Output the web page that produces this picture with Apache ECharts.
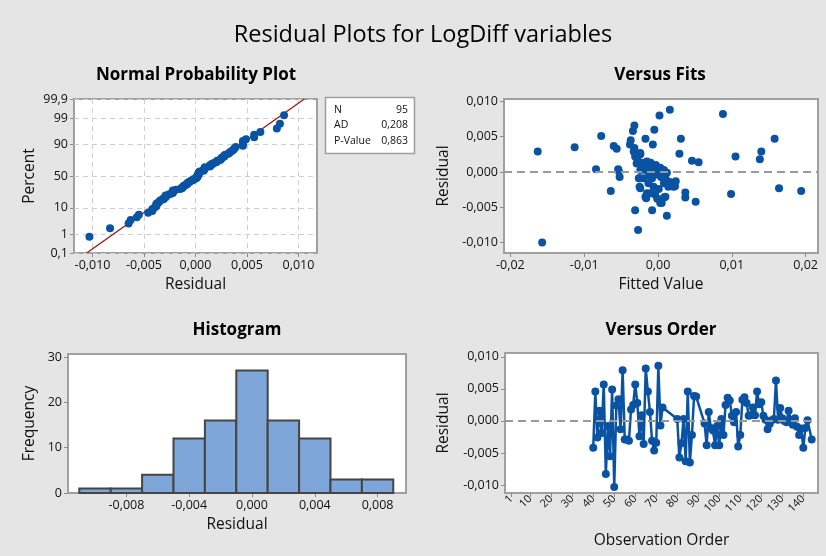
<!DOCTYPE html>
<html>
<head>
<meta charset="utf-8">
<script src="https://cdn.jsdelivr.net/npm/echarts@6/dist/echarts.min.js"></script>
<style>
  html, body { margin: 0; padding: 0; background: #e5e5e5; }
  #chart { width: 826px; height: 556px; }
</style>
</head>
<body>
<div id="chart"></div>
<script>
  // residuals by observation order (rows without a residual are skipped)
  var orderIndex = [
    40, 41, 42, 43, 44, 45, 46, 47, 48, 49, 50, 51, 52, 53, 54, 55, 56, 57, 58, 59,
    60, 61, 62, 63, 64, 65, 66, 67, 68, 69, 70, 71, 72, 73,
    80, 81, 82, 83, 84, 85, 86, 87, 88, 89,
    93, 94, 95, 96, 97, 98, 99, 100, 101, 102, 103, 104, 105, 106, 107, 108, 109, 110,
    111, 112, 113, 114, 115, 116, 117, 118, 119, 120, 121, 122, 123, 124, 125, 126,
    127, 128, 129, 130, 131, 132, 133, 134, 135, 136, 137, 138, 139, 140, 141, 142, 144
  ]
  var orderResiduals = [
    -0.0042, 0.0046, -0.0026, 0.0016, -0.0019, 0.0057, -0.0083, -0.0008, -0.0055, 0.0049,
    -0.0103, 0.0024, 0.0034, -0.0013, 0.0079, -0.0029, -0.0029, -0.0031, 0.0018, 0.0025,
    0.0057, 0.0028, -0.0024, 0.0009, -0.0036, 0.0082, 0.0046, 0.0014, -0.0031, -0.0046,
    -0.0034, 0.0086, -0.0007, 0.0021,
    0.0003, -0.0057, -0.0035, 0.0003, -0.0063, 0.0046, -0.0065, -0.0022, 0.0039, 0.0038,
    -0.0004, -0.0038, 0.0014, -0.0011, -0.0015, -0.0038, -0.0008, -0.0038, 0.0003, -0.0022,
    0.0025, 0.0036, 0.0032, 0.0008, -0.0002, 0.0014, -0.0040, -0.0022,
    0.0033, 0.0037, 0.0028, 0.0008, 0.0009, 0.0021, 0.0009, 0.0046, 0.0026, 0.0029,
    0.0008, 0.0002, -0.0013, -0.0005, 0.0001, 0.0003,
    0.0063, 0.0002, 0.0020, 0.0004, 0.0000, -0.0002, 0.0016, 0.0002, -0.0006, 0.0004,
    -0.0009, -0.0022, -0.0012, -0.0042, -0.0011, 0.0001, -0.0029
  ]

  // versus fits
  var fitValues = [
    -0.0163, -0.0157, -0.0113, -0.0084, -0.0077, -0.0064, -0.0060, -0.0056, -0.0054, -0.0053,
    -0.0052, -0.0038, -0.0037, -0.0034, -0.0032, -0.0032, -0.0031, -0.0029, -0.0027, -0.0025,
    -0.0024, -0.0024, -0.0017, -0.0017, -0.0015, -0.0008, -0.0007, -0.0005, -0.0004, 0.0002,
    0.0003, 0.0008, 0.0010, 0.0012, 0.0016, 0.0024, 0.0023, 0.0029, 0.0031, 0.0037,
    0.0037, 0.0046, 0.0051, 0.0055, 0.0088, 0.0099, 0.0105, 0.0138, 0.0140, 0.0158,
    0.0164, 0.0194,
    -0.0033, -0.0031, -0.0028, -0.0024, -0.0022, -0.0020, -0.0017, -0.0024, -0.0026, -0.0015,
    -0.0013, -0.0010, -0.0008, -0.0008, -0.0006, -0.0004, -0.0001, 0.0001, 0.0003, 0.0004,
    0.0008, 0.0010, 0.0008, 0.0012, 0.0014, 0.0016, 0.0021, -0.0020, -0.0013, -0.0006,
    -0.0010, -0.0001, 0.0005, -0.0025, -0.0019, -0.0011, -0.0003, 0.0006, 0.0011, -0.0012,
    -0.0029, 0.0001, -0.0016
  ]
  var fitResiduals = [
    0.0029, -0.0100, 0.0035, 0.0004, 0.0051, -0.0027, 0.0037, 0.0033, 0.0004, 0.0001,
    -0.0007, 0.0039, 0.0045, 0.0058, 0.0066, 0.0034, -0.0054, 0.0022, -0.0082, -0.0009,
    -0.0023, 0.0027, 0.0047, -0.0035, -0.0030, -0.0054, 0.0039, 0.0060, -0.0032, 0.0080,
    -0.0044, -0.0036, -0.0035, -0.0062, 0.0088, -0.0013, -0.0020, 0.0026, 0.0047, -0.0029,
    -0.0036, 0.0016, -0.0042, 0.0014, 0.0082, -0.0031, 0.0022, 0.0018, 0.0029, 0.0047,
    -0.0023, -0.0027,
    0.0029, 0.0022, 0.0017, 0.0025, 0.0013, 0.0008, 0.0003, 0.0003, -0.0009, 0.0015,
    0.0006, 0.0013, 0.0001, -0.0009, 0.0003, -0.0004, 0.0006, -0.0001, 0.0006, -0.0007,
    0.0003, -0.0009, -0.0016, -0.0001, -0.0021, -0.0014, -0.0021, -0.0009, -0.0016, -0.0021,
    -0.0030, -0.0038, -0.0044, -0.0021, 0.0010, 0.0002, 0.0010, 0.0001, -0.0012, -0.0005,
    0.0012, -0.0024, -0.0037
  ]

  // histogram
  var binCenters = [-0.010, -0.008, -0.006, -0.004, -0.002, 0.000, 0.002, 0.004, 0.006, 0.008]
  var binCounts = [1, 1, 4, 12, 16, 27, 16, 12, 3, 3]
  var binWidth = 0.002

  // tick labels
  var percentTicks = [0.1, 1, 10, 50, 90, 99, 99.9]
  var probXTicks = [-0.010, -0.005, 0.000, 0.005, 0.010]
  var fitXTicks = [-0.02, -0.01, 0.00, 0.01, 0.02]
  var residTicks = [-0.010, -0.005, 0.000, 0.005, 0.010]
  var histXTicks = [-0.008, -0.004, 0.000, 0.004, 0.008]
  var freqTicks = [0, 10, 20, 30]
  var orderTicks = [1, 10, 20, 30, 40, 50, 60, 70, 80, 90, 100, 110, 120, 130, 140]

  // fitted normal line and stats box
  var lineMean = 0.0
  var lineSd = 0.00342
  var statNames = ['N', 'AD', 'P-Value']
  var statValues = ['95', '0,208', '0,863']

  var FONT = '"Open Sans", "Noto Sans", sans-serif'
  var BLUE = '#0a53a3'
  var INK = '#111'

  function fmt (v, d) {
    var s = Math.abs(v).toFixed(d).replace('.', ',')
    return (v < 0 && Math.abs(v) > 1e-12 ? '-' : '') + s
  }

  // inverse standard normal (Acklam)
  function normInv (p) {
    var a = [-3.969683028665376e+01, 2.209460984245205e+02, -2.759285104469687e+02, 1.383577518672690e+02, -3.066479806614716e+01, 2.506628277459239e+00]
    var b = [-5.447609879822406e+01, 1.615858368580409e+02, -1.556989798598866e+02, 6.680131188771972e+01, -1.328068155288572e+01]
    var c = [-7.784894002430293e-03, -3.223964580411365e-01, -2.400758277161838e+00, -2.549732539343734e+00, 4.374664141464968e+00, 2.938163982698783e+00]
    var d = [7.784695709041462e-03, 3.224671290700398e-01, 2.445134137142996e+00, 3.754408661907416e+00]
    var q, r
    if (p < 0.02425) {
      q = Math.sqrt(-2 * Math.log(p))
      return (((((c[0] * q + c[1]) * q + c[2]) * q + c[3]) * q + c[4]) * q + c[5]) / ((((d[0] * q + d[1]) * q + d[2]) * q + d[3]) * q + 1)
    }
    if (p > 1 - 0.02425) return -normInv(1 - p)
    q = p - 0.5
    r = q * q
    return (((((a[0] * r + a[1]) * r + a[2]) * r + a[3]) * r + a[4]) * r + a[5]) * q / (((((b[0] * r + b[1]) * r + b[2]) * r + b[3]) * r + b[4]) * r + 1)
  }

  // probability plot points: sorted residuals vs median-rank scores
  var sorted = orderResiduals.slice().sort(function (x, y) { return x - y })
  var n = sorted.length
  var probPoints = sorted.map(function (v, i) {
    return [v, normInv((i + 1 - 0.3) / (n + 0.4))]
  })
  var percentZ = percentTicks.map(function (p) { return normInv(p / 100) })
  var zMin = percentZ[0] - 1e-6
  var zMax = percentZ[percentZ.length - 1] + 1e-6
  var fitLine = [[lineMean + lineSd * zMin, zMin], [lineMean + lineSd * zMax, zMax]]

  var fitsData = fitValues.map(function (f, i) { return [f, fitResiduals[i]] })
  var orderData = orderIndex.map(function (o, i) { return [o, orderResiduals[i]] })
  var histData = binCenters.map(function (c, i) { return [c, binCounts[i]] })

  function axis (o) {
    return {
      type: 'value',
      gridIndex: o.grid,
      min: o.min,
      max: o.max,
      name: o.name,
      nameLocation: 'middle',
      nameGap: o.nameGap,
      nameMoveOverlap: false,
      nameTextStyle: { fontFamily: FONT, fontSize: 15.5, color: INK },
      axisLine: { show: false, onZero: false },
      axisTick: { show: true, length: 4, customValues: o.ticks, lineStyle: { color: '#8c8c8c', width: 1 } },
      axisLabel: {
        customValues: o.ticks,
        showMinLabel: true,
        showMaxLabel: true,
        hideOverlap: false,
        fontFamily: FONT,
        fontSize: o.fontSize || 12.5,
        color: INK,
        margin: o.margin || 6,
        rotate: o.rotate || 0,
        formatter: o.formatter
      },
      splitLine: {
        show: !!o.split,
        lineStyle: { color: '#cfcfcf', type: [5, 4], width: 1 }
      }
    }
  }

  var chart = echarts.init(document.getElementById('chart'), null, { renderer: 'canvas' })

  var gridStyle = { show: true, backgroundColor: '#ffffff', borderColor: '#a0a0a0', borderWidth: 2, outerBoundsMode: 'none', containLabel: false }
  function grid (l, t, w, h) {
    return Object.assign({ left: l, top: t, width: w, height: h }, gridStyle)
  }

  function titleText (txt, x, y, size, weight) {
    return {
      type: 'text', x: x, y: y, silent: true,
      style: { text: txt, fill: '#000', font: weight + ' ' + size + 'px ' + FONT, align: 'center', verticalAlign: 'middle' }
    }
  }

  var graphics = [
    titleText('Residual Plots for LogDiff variables', 423, 35, 23.5, 'normal'),
    titleText('Normal Probability Plot', 196, 75, 17, 'bold'),
    titleText('Versus Fits', 660, 75, 17, 'bold'),
    titleText('Histogram', 237, 330, 17, 'bold'),
    titleText('Versus Order', 661, 330, 17, 'bold'),
    {
      type: 'rect', silent: true,
      shape: { x: 325.5, y: 97.5, width: 89, height: 56 },
      style: { fill: '#fff', stroke: '#a0a0a0', lineWidth: 1.5 }
    }
  ]
  statNames.forEach(function (s, i) {
    graphics.push({
      type: 'text', x: 334, y: 110 + i * 15.5, silent: true,
      style: { text: s, fill: INK, font: '10.5px ' + FONT, align: 'left', verticalAlign: 'middle' }
    })
    graphics.push({
      type: 'text', x: 408, y: 110 + i * 15.5, silent: true,
      style: { text: statValues[i], fill: INK, font: '10.5px ' + FONT, align: 'right', verticalAlign: 'middle' }
    })
  })

  var zeroLine = {
    silent: true,
    symbol: 'none',
    label: { show: false },
    lineStyle: { color: '#9a9a9a', type: [8, 5], width: 2 },
    data: [{ yAxis: 0 }],
    animation: false
  }

  var option = {
    backgroundColor: '#e5e5e5',
    animation: false,
    graphic: graphics,
    grid: [
      grid(74, 99, 243, 154),
      grid(504, 99, 314, 154),
      grid(68, 354, 338, 139),
      grid(505, 353, 313, 140)
    ],
    xAxis: [
      axis({ grid: 0, min: -0.0118, max: 0.0118, ticks: probXTicks, name: 'Residual', nameGap: 24, split: true,
        formatter: function (v) { return fmt(v, 3) } }),
      axis({ grid: 1, min: -0.02087, max: 0.02168, ticks: fitXTicks, name: 'Fitted Value', nameGap: 24,
        formatter: function (v) { return fmt(v, 2) } }),
      axis({ grid: 2, min: -0.01172, max: 0.00981, ticks: histXTicks, name: 'Residual', nameGap: 24,
        formatter: function (v) { return fmt(v, 3) } }),
      axis({ grid: 3, min: -2, max: 147, ticks: orderTicks, name: 'Observation Order', nameGap: 40,
        rotate: 45, fontSize: 11, margin: 4,
        formatter: function (v) { return String(Math.round(v)) } })
    ],
    yAxis: [
      axis({ grid: 0, min: zMin, max: zMax, ticks: percentZ, name: 'Percent', nameGap: 36, split: true,
        formatter: function (v) {
          var best = 0
          percentZ.forEach(function (z, i) { if (Math.abs(z - v) < Math.abs(percentZ[best] - v)) best = i })
          return String(percentTicks[best]).replace('.', ',')
        } }),
      axis({ grid: 1, min: -0.01147, max: 0.01034, ticks: residTicks, name: 'Residual', nameGap: 52,
        formatter: function (v) { return fmt(v, 3) } }),
      axis({ grid: 2, min: 0, max: 30.66, ticks: freqTicks, name: 'Frequency', nameGap: 30,
        formatter: function (v) { return String(Math.round(v)) } }),
      axis({ grid: 3, min: -0.01125, max: 0.0106, ticks: residTicks, name: 'Residual', nameGap: 53,
        formatter: function (v) { return fmt(v, 3) } })
    ],
    series: [
      {
        type: 'line', xAxisIndex: 0, yAxisIndex: 0, data: fitLine,
        showSymbol: false, silent: true, z: 3,
        lineStyle: { color: '#a31b1f', width: 1.5 }
      },
      {
        type: 'scatter', xAxisIndex: 0, yAxisIndex: 0, data: probPoints,
        symbolSize: 8, z: 4, itemStyle: { color: BLUE, opacity: 1 }
      },
      {
        type: 'scatter', xAxisIndex: 1, yAxisIndex: 1, data: fitsData,
        symbolSize: 8, z: 4, itemStyle: { color: BLUE, opacity: 1 },
        markLine: zeroLine
      },
      {
        type: 'custom', xAxisIndex: 2, yAxisIndex: 2, data: histData,
        encode: { x: 0, y: 1 },
        renderItem: function (params, api) {
          var c = api.value(0)
          var k = api.value(1)
          var p0 = api.coord([c - binWidth / 2, k])
          var p1 = api.coord([c + binWidth / 2, 0])
          return {
            type: 'rect',
            shape: { x: p0[0], y: p0[1], width: p1[0] - p0[0], height: p1[1] - p0[1] },
            style: { fill: '#7ea6d8', stroke: '#454545', lineWidth: 2 }
          }
        }
      },
      {
        type: 'line', xAxisIndex: 3, yAxisIndex: 3, data: orderData,
        symbol: 'circle', symbolSize: 8, showSymbol: true, showAllSymbol: true, z: 4,
        lineStyle: { color: BLUE, width: 2.5 },
        itemStyle: { color: BLUE, opacity: 1 },
        markLine: zeroLine
      }
    ]
  }

  chart.setOption(option)
</script>
</body>
</html>
